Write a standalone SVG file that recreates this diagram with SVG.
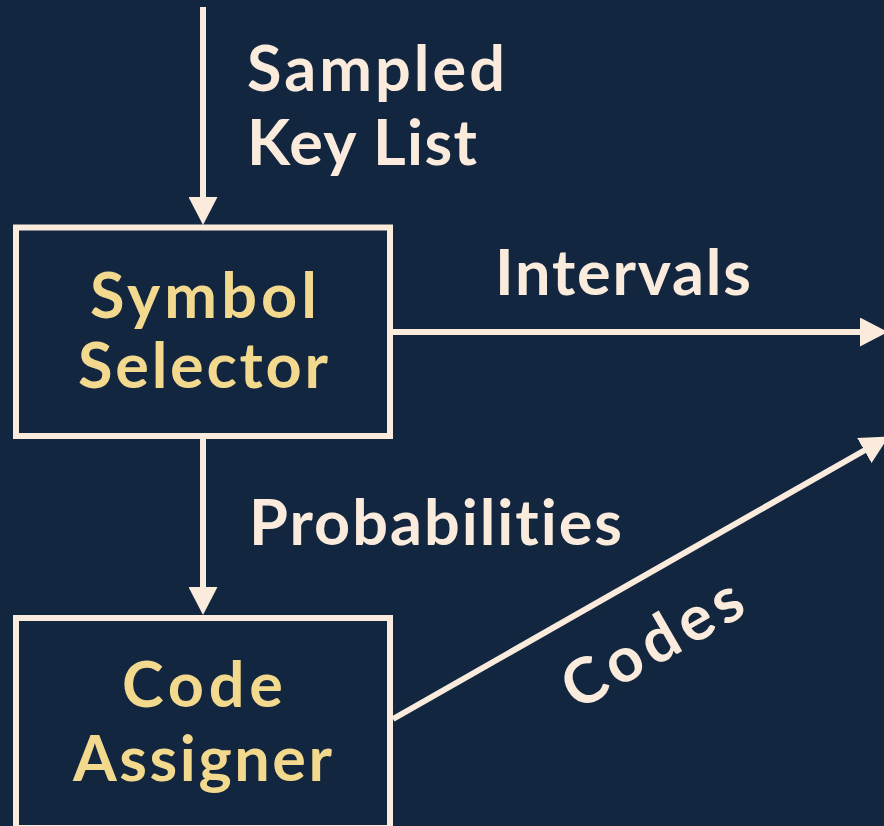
<svg xmlns="http://www.w3.org/2000/svg" width="884" height="826" viewBox="0 0 884 826">
  <defs>
    <style>
      .bg { fill: #12263f; }
      .box { fill: #12263f; stroke: #faebdc; stroke-width: 6; }
      .wire { stroke: #faebdc; stroke-width: 6; fill: none; }
      .head { fill: #faebdc; }
      text { font-family: Lato, "Liberation Sans", sans-serif; font-size: 63px; font-weight: 700; font-variant-ligatures: none; }
      .node-label { fill: #f3d98e; text-anchor: middle; }
      .edge-label { fill: #faebdc; }
    </style>
    <marker id="arrow" viewBox="0 0 28 29" markerWidth="28" markerHeight="29" refX="4" refY="14.5" orient="auto" markerUnits="userSpaceOnUse">
      <path class="head" d="M0,0 L28,14.5 L0,29 z"/>
    </marker>
  </defs>

  <rect class="bg" x="0" y="0" width="884" height="826"/>

  <g id="connectors">
    <!-- input: sampled key list into the selector -->
    <line class="wire" x1="203" y1="7" x2="203" y2="201" marker-end="url(#arrow)"/>
    <!-- selector to assigner -->
    <line class="wire" x1="203" y1="439" x2="203" y2="591" marker-end="url(#arrow)"/>
    <!-- intervals output -->
    <line class="wire" x1="393" y1="332" x2="864" y2="332" marker-end="url(#arrow)"/>
    <!-- codes output -->
    <line class="wire" x1="393" y1="719" x2="867.8" y2="448.5" marker-end="url(#arrow)"/>
  </g>

  <g id="edge-labels">
    <text class="edge-label" x="247" y="91" textLength="258">Sampled</text>
    <text class="edge-label" x="247" y="165" textLength="230">Key List</text>
    <text class="edge-label" x="495" y="295" textLength="256">Intervals</text>
    <text class="edge-label" x="249" y="545" textLength="373">Probabilities</text>
    <text class="edge-label" text-anchor="middle" transform="translate(652,643) rotate(-30)" y="22" textLength="198">Codes</text>
  </g>

  <g id="symbol-selector">
    <rect class="box" x="16" y="227.5" width="374" height="208.5"/>
    <text class="node-label" x="203.5" y="318" textLength="227">Symbol</text>
    <text class="node-label" x="203" y="388" textLength="250">Selector</text>
  </g>

  <g id="code-assigner">
    <rect class="box" x="16" y="618" width="374" height="210"/>
    <text class="node-label" x="202.5" y="707" textLength="161">Code</text>
    <text class="node-label" x="202.5" y="781" textLength="259">Assigner</text>
  </g>
</svg>
